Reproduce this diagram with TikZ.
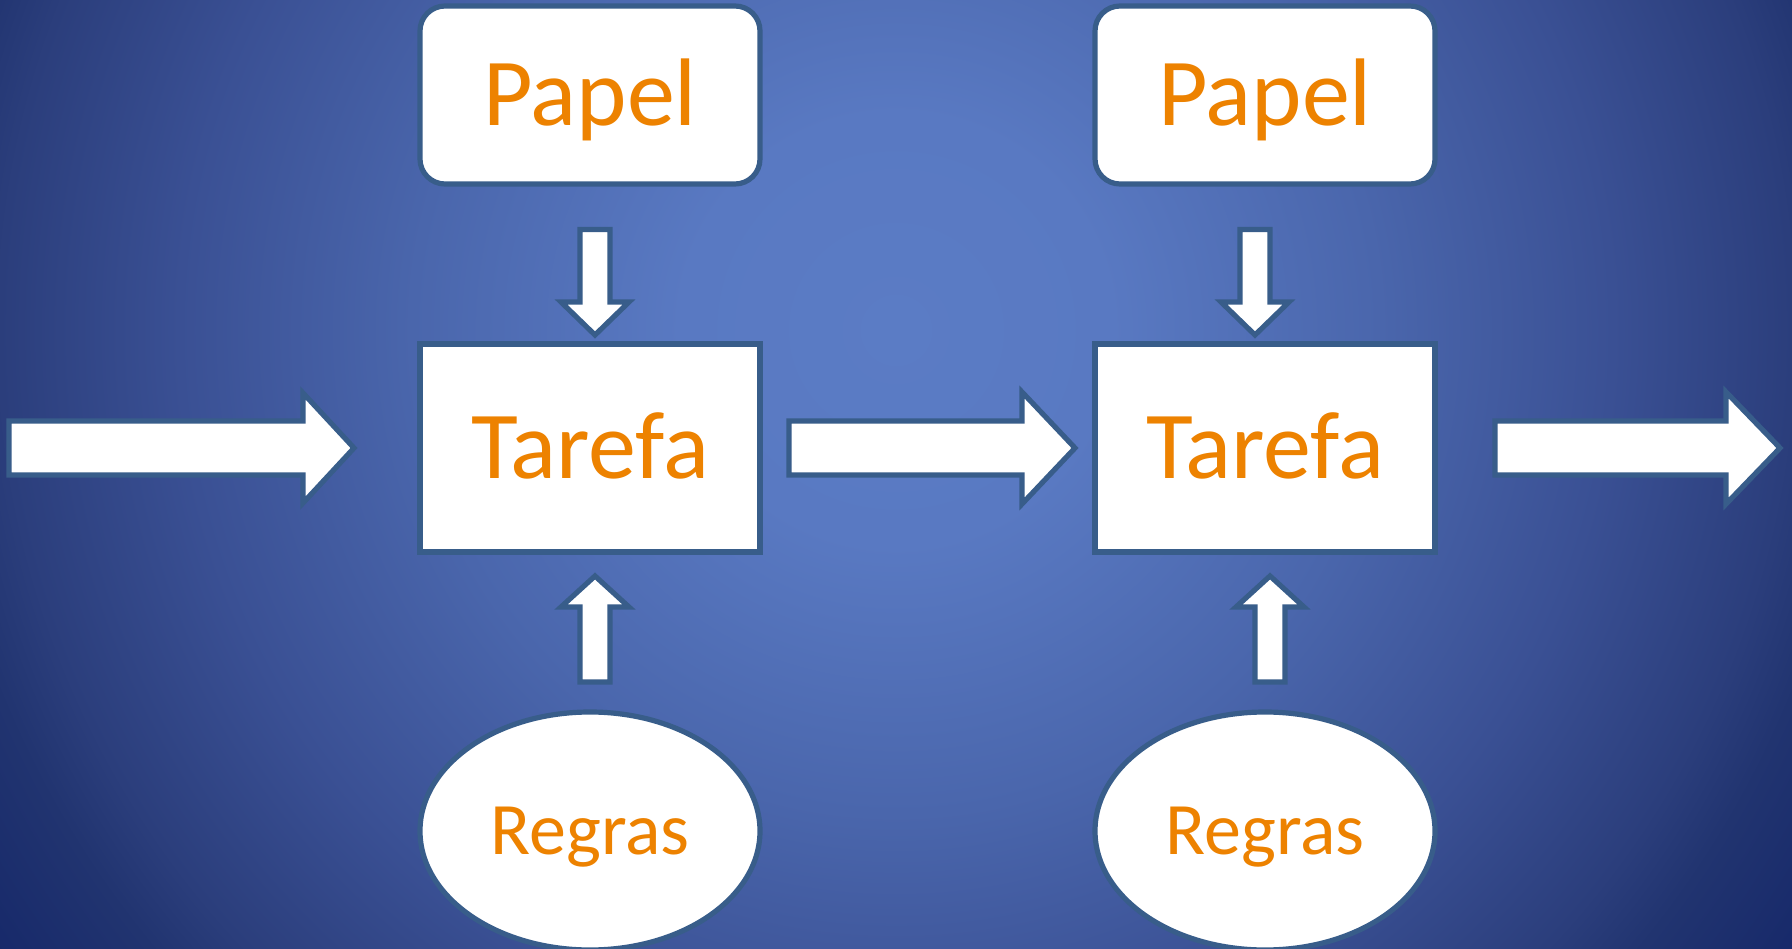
\documentclass[tikz,border=0pt]{standalone}
\usepackage{fontspec}
\setmainfont{Carlito}
\usetikzlibrary{positioning,calc,shapes.geometric}
\definecolor{edge}{RGB}{56,93,138}
\definecolor{ink}{RGB}{237,130,0}
\definecolor{bg0}{RGB}{91,124,197}
\definecolor{bg1}{RGB}{89,121,194}
\definecolor{bg2}{RGB}{74,102,172}
\definecolor{bg3}{RGB}{58,80,148}
\definecolor{bg4}{RGB}{43,62,124}
\definecolor{bg5}{RGB}{33,52,112}
\definecolor{bg6}{RGB}{23,41,106}
\pgfdeclareradialshading{slide}{\pgfpointorigin}{color(0bp)=(bg0); color(6bp)=(bg1);
    color(13.5bp)=(bg2); color(20bp)=(bg3); color(25bp)=(bg4); color(27bp)=(bg5);
    color(30.5bp)=(bg6); color(50bp)=(bg6)}
\tikzset{
    card/.style={draw=edge,line width=2.6pt,fill=white,text=ink,outer sep=0pt,
        minimum width=170pt,text height=30.3pt,text depth=0pt,
        font=\fontsize{48}{48}\selectfont},
    papel/.style={card,rounded corners=12.5pt,minimum height=89pt},
    tarefa/.style={card,minimum height=104pt},
    regras/.style={card,ellipse,inner sep=0pt,minimum height=119pt,
        text height=23.4pt,font=\fontsize{37}{37}\selectfont},
    fat/.style={draw=edge,line width=2.6pt,fill=white,line join=miter}
}
\newcommand\blockarrow[5]{
    \path ($(#2)!#5!(#1)$) coordinate (head);
    \draw[fat] ($(#1)!#3!90:(#2)$) -- ($(head)!#3!90:(#2)$) -- ($(head)!#4!90:(#2)$) --
        (#2) -- ($(head)!#4!-90:(#2)$) -- ($(head)!#3!-90:(#2)$) -- ($(#1)!#3!-90:(#2)$) -- cycle;
}

\begin{document}
\begin{tikzpicture}[x=1pt,y=1pt]
            \useasboundingbox (0,0) rectangle (896,474);
            \begin{scope}
                \clip (0,0) rectangle (896,474);
                \shade[shading=slide] (0,-139) rectangle (896,757);
            \end{scope}
            \node[tarefa] (tarefa1) at (295,250) {Tarefa};
            \node[tarefa,right=167.5pt of tarefa1] (tarefa2) {Tarefa};
            \node[papel,above=80pt of tarefa1] (papel1) {Papel};
            \node[papel,above=80pt of tarefa2] (papel2) {Papel};
            \node[regras,below=80pt of tarefa1] (regras1) {Regras};
            \node[regras,below=80pt of tarefa2] (regras2) {Regras};
            \coordinate[left=205.5pt of tarefa1.west] (in);
            \coordinate[left=33pt of tarefa1.west]    (in tip);
            \coordinate[right=14.5pt of tarefa1.east] (link);
            \coordinate[left=10pt of tarefa2.west]    (link tip);
            \coordinate[right=30pt of tarefa2.east]   (out);
            \coordinate[right=172.5pt of tarefa2.east] (out tip);
            \coordinate (down1) at ($(papel1.south)+(2.5,-22.75)$);
            \coordinate (down1 tip) at ($(tarefa1.north)+(2.5,4.5)$);
            \coordinate (down2) at ($(papel2.south)+(-5,-22.75)$);
            \coordinate (down2 tip) at ($(tarefa2.north)+(-5,4.5)$);
            \coordinate (up1) at ($(regras1.north)+(2.5,15)$);
            \coordinate (up1 tip) at ($(tarefa1.south)+(2.5,-12)$);
            \coordinate (up2) at ($(regras2.north)+(2.5,15)$);
            \coordinate (up2 tip) at ($(tarefa2.south)+(2.5,-12)$);
            \blockarrow{in}{in tip}{13.5pt}{27.5pt}{25.5pt}
            \blockarrow{link}{link tip}{13.5pt}{28pt}{26.5pt}
            \blockarrow{out}{out tip}{13.5pt}{28pt}{27pt}
            \blockarrow{down1}{down1 tip}{7.5pt}{17pt}{16.5pt}
            \blockarrow{down2}{down2 tip}{7.5pt}{17pt}{16.5pt}
            \blockarrow{up1}{up1 tip}{7.5pt}{17pt}{15.5pt}
            \blockarrow{up2}{up2 tip}{7.5pt}{17pt}{15.5pt}
        \end{tikzpicture}
\end{document}
